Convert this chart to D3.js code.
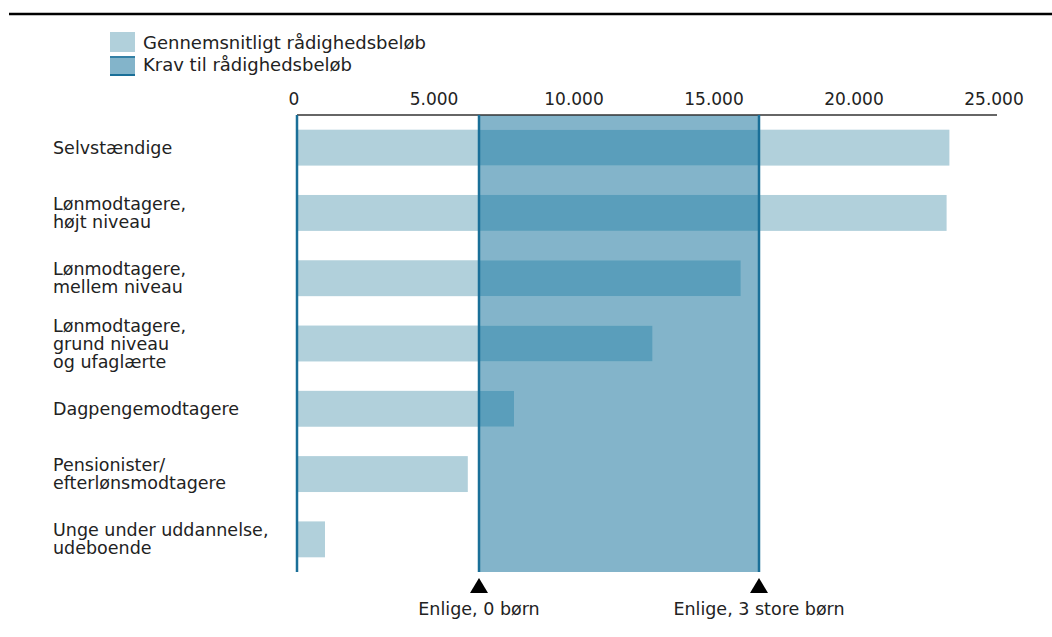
<!DOCTYPE html>
<html><head><meta charset="utf-8">
<script src="https://cdn.jsdelivr.net/npm/d3@7"></script>
<style>
body{margin:0;background:#fff;}
text{font-family:"DejaVu Sans",sans-serif;fill:#222;}
</style></head>
<body><svg id="c" width="1052" height="637"></svg>
<script>
const categories = [
  ["Selvstændige"],
  ["Lønmodtagere,","højt niveau"],
  ["Lønmodtagere,","mellem niveau"],
  ["Lønmodtagere,","grund niveau","og ufaglærte"],
  ["Dagpengemodtagere"],
  ["Pensionister/","efterlønsmodtagere"],
  ["Unge under uddannelse,","udeboende"]
];
const avgValues = [23300, 23200, 15850, 12700, 7750, 6100, 1000];
const kravLow = 6500;
const kravHigh = 16500;
const markerLabels = ["Enlige, 0 børn", "Enlige, 3 store børn"];
const xTicks = [0, 5000, 10000, 15000, 20000, 25000];
const legendLabels = ["Gennemsnitligt rådighedsbeløb", "Krav til rådighedsbeløb"];

const cBar = "#b1d0db", cBand = "#83b4ca", cOverlap = "#5a9ebb", cLine = "#1a6f98";
const svg = d3.select("#c");
const fmt = d => d3.format(",")(d).replace(/,/g, ".");

const x = d3.scaleLinear().domain([0, 25000]).range([297, 997]);
const y = d3.scaleBand().domain(d3.range(categories.length)).range([115, 572]).paddingInner(0.45).paddingOuter(0.225);

// top rule
svg.append("line").attr("x1", 9).attr("x2", 1052).attr("y1", 14).attr("y2", 14).attr("stroke", "#000").attr("stroke-width", 2.5);

// legend
const lg = svg.append("g");
lg.append("rect").attr("x", 110).attr("y", 32).attr("width", 25).attr("height", 20).attr("fill", cBar);
lg.append("rect").attr("x", 110).attr("y", 56).attr("width", 25).attr("height", 20).attr("fill", cBand);
lg.append("line").attr("x1", 110).attr("x2", 135).attr("y1", 75).attr("y2", 75).attr("stroke", cLine).attr("stroke-width", 2);
lg.append("line").attr("x1", 110).attr("x2", 135).attr("y1", 57).attr("y2", 57).attr("stroke", cLine).attr("stroke-width", 1.5);
legendLabels.forEach((t, i) => lg.append("text").attr("x", 143).attr("y", 49 + i * 22).style("font-size", "18px").text(t));

// band
svg.append("rect").attr("x", x(kravLow)).attr("y", 115).attr("width", x(kravHigh) - x(kravLow)).attr("height", 572 - 115).attr("fill", cBand);

// bars
svg.selectAll(".bar").data(avgValues).join("rect").attr("class", "bar")
  .attr("x", x(0)).attr("y", (d, i) => y(i)).attr("width", d => x(d) - x(0)).attr("height", y.bandwidth()).attr("fill", cBar);
// overlap
svg.selectAll(".ov").data(avgValues.map((d, i) => ({d, i})).filter(o => o.d > kravLow)).join("rect").attr("class", "ov")
  .attr("x", x(kravLow)).attr("y", o => y(o.i)).attr("width", o => x(Math.min(o.d, kravHigh)) - x(kravLow)).attr("height", y.bandwidth()).attr("fill", cOverlap);

// axis line
svg.append("line").attr("x1", x(0)).attr("x2", x(25000)).attr("y1", 115).attr("y2", 115).attr("stroke", "#333").attr("stroke-width", 1.5);
// tick labels
svg.selectAll(".tk").data(xTicks).join("text").attr("class", "tk").attr("x", d => x(d) - 3).attr("y", 105).attr("text-anchor", "middle").style("font-size", "17px").text(fmt);

// vertical lines
[0, kravLow, kravHigh].forEach(v => svg.append("line").attr("x1", x(v)).attr("x2", x(v)).attr("y1", 115).attr("y2", 572).attr("stroke", cLine).attr("stroke-width", 2.5));

// markers
[kravLow, kravHigh].forEach((v, i) => {
  const cx = x(v);
  svg.append("path").attr("d", `M${cx - 9},593 L${cx + 9},593 L${cx},578 Z`).attr("fill", "#000");
  svg.append("text").attr("x", cx).attr("y", 615).attr("text-anchor", "middle").style("font-size", "17.5px").text(markerLabels[i]);
});

// category labels
categories.forEach((lines, i) => {
  const cy = y(i) + y.bandwidth() / 2;
  const lh = 18;
  const t = svg.append("text").attr("x", 53).style("font-size", "17.5px");
  lines.forEach((l, j) => t.append("tspan").attr("x", 53).attr("y", cy + (j - (lines.length - 1) / 2) * lh + 6).text(l));
});
</script></body></html>
